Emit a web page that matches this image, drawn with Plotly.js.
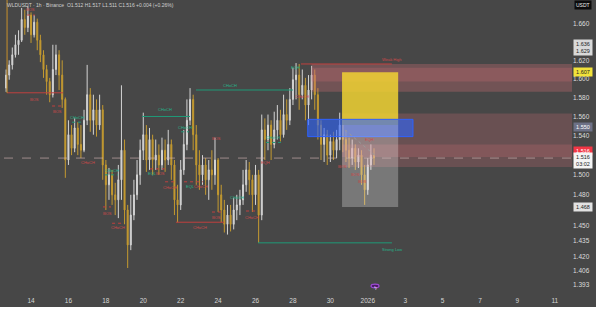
<!DOCTYPE html>
<html><head><meta charset="utf-8">
<script src="https://cdn.plot.ly/plotly-3.0.1.min.js"></script>
<style>html,body{margin:0;padding:0;background:#fff;width:600px;height:315px;overflow:hidden}#chart{width:596px;height:307px}</style>
</head><body><div id="chart"></div>
<script>
// ---- data (4h candles) ----
const startTime = '2025-12-12T16:00:00Z';
const barHours = 4;
const opens = [1.590,1.604,1.615,1.626,1.637,1.642,1.665,1.656,1.670,1.648,
 1.662,1.642,1.626,1.610,1.597,1.583,1.610,1.626,1.604,1.578,
 1.515,1.541,1.527,1.548,1.531,1.525,1.556,1.583,1.556,1.567,
 1.551,1.567,1.510,1.490,1.500,1.480,1.475,1.495,1.525,1.465,
 1.431,1.460,1.480,1.500,1.525,1.541,1.515,1.536,1.515,1.520,
 1.510,1.525,1.515,1.531,1.510,1.475,1.470,1.505,1.531,1.556,
 1.578,1.541,1.510,1.500,1.510,1.495,1.505,1.500,1.515,1.480,
 1.465,1.451,1.460,1.451,1.465,1.470,1.475,1.490,1.505,1.495,
 1.480,1.500,1.460,1.546,1.536,1.551,1.531,1.546,1.556,1.541,
 1.562,1.556,1.578,1.599,1.604,1.583,1.593,1.572,1.588,1.604,
 1.583,1.551,1.531,1.541,1.520,1.534,1.525,1.536,1.551,1.536,
 1.525,1.517,1.527,1.513,1.520,1.500,1.485,1.510,1.520];
const highs = [1.610,1.620,1.634,1.648,1.653,1.678,1.676,1.680,1.673,1.670,
 1.666,1.648,1.631,1.615,1.601,1.637,1.637,1.631,1.620,1.580,
 1.556,1.551,1.558,1.554,1.551,1.567,1.615,1.590,1.583,1.578,
 1.583,1.572,1.515,1.507,1.505,1.492,1.510,1.593,1.536,1.470,
 1.480,1.495,1.515,1.536,1.564,1.551,1.548,1.541,1.536,1.531,
 1.538,1.536,1.546,1.536,1.515,1.490,1.515,1.546,1.578,1.590,
 1.583,1.551,1.525,1.520,1.517,1.515,1.525,1.538,1.517,1.490,
 1.475,1.470,1.470,1.477,1.480,1.485,1.505,1.515,1.513,1.500,
 1.510,1.505,1.562,1.558,1.562,1.556,1.565,1.572,1.567,1.583,
 1.578,1.590,1.612,1.617,1.616,1.610,1.601,1.604,1.614,1.610,
 1.590,1.556,1.548,1.546,1.541,1.544,1.546,1.564,1.558,1.546,
 1.538,1.536,1.531,1.527,1.525,1.510,1.517,1.531,1.527];
const lows = [1.586,1.599,1.610,1.623,1.626,1.640,1.648,1.651,1.639,1.645,
 1.631,1.618,1.601,1.583,1.575,1.580,1.604,1.588,1.569,1.497,
 1.510,1.520,1.523,1.520,1.517,1.523,1.551,1.544,1.541,1.539,
 1.546,1.495,1.465,1.475,1.470,1.460,1.457,1.475,1.451,1.409,
 1.426,1.455,1.475,1.490,1.515,1.503,1.505,1.500,1.505,1.500,
 1.505,1.503,1.510,1.495,1.460,1.453,1.465,1.500,1.525,1.551,
 1.525,1.490,1.485,1.490,1.480,1.475,1.485,1.490,1.463,1.453,
 1.443,1.441,1.444,1.446,1.455,1.460,1.470,1.483,1.480,1.463,
 1.470,1.433,1.455,1.515,1.525,1.515,1.527,1.536,1.534,1.538,
 1.546,1.551,1.572,1.578,1.567,1.578,1.556,1.551,1.578,1.567,
 1.536,1.515,1.513,1.510,1.513,1.515,1.517,1.525,1.523,1.513,
 1.507,1.510,1.505,1.507,1.490,1.470,1.480,1.505,1.510];
const closes = [1.604,1.615,1.626,1.637,1.642,1.665,1.656,1.670,1.648,1.662,
 1.642,1.626,1.610,1.597,1.583,1.610,1.626,1.604,1.578,1.515,
 1.541,1.527,1.548,1.531,1.525,1.556,1.583,1.556,1.567,1.551,
 1.567,1.510,1.490,1.500,1.480,1.475,1.495,1.525,1.465,1.431,
 1.460,1.480,1.500,1.525,1.541,1.515,1.536,1.515,1.520,1.510,
 1.525,1.515,1.531,1.510,1.475,1.470,1.505,1.531,1.556,1.578,
 1.541,1.510,1.500,1.510,1.495,1.505,1.500,1.515,1.480,1.465,
 1.451,1.460,1.451,1.465,1.470,1.475,1.490,1.505,1.495,1.480,
 1.500,1.460,1.546,1.536,1.551,1.531,1.546,1.556,1.541,1.562,
 1.556,1.578,1.599,1.604,1.583,1.593,1.572,1.588,1.604,1.583,
 1.551,1.531,1.541,1.520,1.534,1.525,1.536,1.551,1.536,1.525,
 1.517,1.527,1.513,1.520,1.500,1.485,1.510,1.520,1.517];

const xTickDates = ['2025-12-14','2025-12-16','2025-12-18','2025-12-20','2025-12-22','2025-12-24','2025-12-26','2025-12-28','2025-12-30','2026-01-01','2026-01-03','2026-01-05','2026-01-07','2026-01-09','2026-01-11'];
const xTickLabels = ['14','16','18','20','22','24','26','28','30','2026','3','5','7','9','11'];
const yTickValues = [1.660,1.620,1.600,1.580,1.560,1.540,1.500,1.480,1.450,1.435,1.420,1.406,1.393];

const lastPrice = 1.517;
// zones: [x0, x1, priceLow, priceHigh]
const upperZone = ['2025-12-29 00:00','2026-01-11 22:00',1.586,1.616];
const upperZoneCore = ['2025-12-29 00:00','2026-01-11 22:00',1.597,1.612];
const lowerZone = ['2025-12-30 15:00','2026-01-11 22:00',1.508,1.563];
const lowerZoneCore = ['2025-12-30 15:00','2026-01-11 22:00',1.518,1.531];
const targetBox = ['2025-12-30 15:00','2026-01-02 15:00',1.551,1.607];
const stopBox = ['2025-12-30 15:00','2026-01-02 15:00',1.468,1.551];
const blueBox = ['2025-12-28 19:00','2026-01-03 10:00',1.539,1.557];
// structure lines: [x0, x1, price, kind]
const structLines = [
 ['2025-12-12 17:15','2025-12-15 17:00',1.585,'redSolid'],
 ['2025-12-13 19:00','2025-12-14 05:00',1.670,'redDot'],
 ['2025-12-15 03:00','2025-12-15 17:00',1.571,'redDot'],
 ['2025-12-16 04:30','2025-12-16 17:30',1.554,'greenDot'],
 ['2025-12-17 23:00','2025-12-18 15:40',1.500,'greenDot'],
 ['2025-12-17 20:20','2025-12-18 06:40',1.468,'redDot'],
 ['2025-12-18 08:00','2025-12-18 20:40',1.452,'redDot'],
 ['2025-12-19 22:20','2025-12-22 12:00',1.560,'greenSolid'],
 ['2025-12-20 08:40','2025-12-21 05:15',1.506,'redDot'],
 ['2025-12-21 04:00','2025-12-21 18:00',1.493,'redDot'],
 ['2025-12-22 00:30','2025-12-22 10:40',1.544,'greenDot'],
 ['2025-12-22 04:20','2025-12-23 04:40',1.493,'redDot'],
 ['2025-12-21 18:00','2025-12-24 07:40',1.453,'redSolid'],
 ['2025-12-23 16:10','2025-12-24 05:00',1.463,'redDot'],
 ['2025-12-25 11:50','2025-12-26 00:40',1.464,'redDot'],
 ['2025-12-26 13:30','2025-12-27 08:40',1.533,'greenDot'],
 ['2025-12-22 19:40','2025-12-28 00:00',1.588,'greenSolid'],
 ['2025-12-28 10:20','2026-01-02 07:00',1.616,'redSolid'],
 ['2025-12-26 03:10','2026-01-02 07:00',1.433,'greenSolid']
];
// labels: [text, time, price, colour kind]
const structLabels = [
 ['BOS','2025-12-13 22:45',1.676,'r'],['BOS','2025-12-14 05:00',1.578,'r'],['BOS','2025-12-15 09:20',1.565,'r'],
 ['CHoCH','2025-12-16 11:00',1.559,'g'],['CHoCH','2025-12-17 01:00',1.512,'r'],['CHoCH','2025-12-18 08:00',1.504,'g'],
 ['BOS','2025-12-18 01:30',1.462,'r'],['CHoCH','2025-12-18 15:40',1.448,'r'],['CHoCH','2025-12-21 04:00',1.567,'g'],
 ['EQL','2025-12-20 11:20',1.501,'g'],['BOS','2025-12-20 21:30',1.501,'r'],['CHoCH','2025-12-21 10:20',1.487,'r'],
 ['CHoCH','2025-12-22 05:30',1.549,'g'],['EQL','2025-12-22 12:00',1.488,'g'],['CHoCH','2025-12-23 02:10',1.488,'r'],
 ['BOS','2025-12-23 21:20',1.537,'r'],['BOS','2025-12-23 22:30',1.458,'r'],['CHoCH','2025-12-23 00:45',1.448,'r'],
 ['CHoCH','2025-12-25 00:15',1.477,'g'],['CHoCH','2025-12-25 19:30',1.458,'r'],['CHoCH','2025-12-26 22:20',1.538,'g'],
 ['EQH','2025-12-26 12:10',1.513,'r'],['CHoCH','2025-12-24 15:20',1.593,'g'],['EQH','2025-12-28 02:40',1.612,'g'],
 ['CHoCH','2025-12-28 11:30',1.581,'r'],['BOS','2025-12-30 15:00',1.508,'r'],['BOS','2025-12-31 07:40',1.500,'r'],
 ['BOS','2025-12-31 16:40',1.493,'r'],['EQH','2026-01-01 02:50',1.536,'r'],
 ['Weak High','2026-01-02 07:00',1.621,'r'],['Strong Low','2026-01-02 07:00',1.427,'g']
];
// right-axis price tags: [text, price, bg, fg]
const priceTags = [
 ['1.636<br>1.629',1.6335,'#d9d9d9','#222'],
 ['1.607',1.607,'#f2e23a','#222'],
 ['1.550',1.549,'#6d7186','#fff'],
 ['1.516',1.524,'#f23645','#fff'],
 ['1.516<br>03:02',1.5145,'#f4f4f4','#222'],
 ['1.468',1.468,'#e2e2e2','#222']
];

// ---- build ----
const t0 = Date.parse(startTime);
const times = opens.map((_, i) => new Date(t0 + i*barHours*3600e3).toISOString().slice(0,16).replace('T',' '));

const RED = '#c0403f', GREEN = '#1f9a78';
const shapes = [];
function rect(z, fill, line) {
  shapes.push({type:'rect', xref:'x', yref:'y', x0:z[0], x1:z[1], y0:z[2], y1:z[3],
    fillcolor: fill, line: line || {width:0}, layer:'above'});
}
rect(upperZone, 'rgba(205,110,115,0.32)');
rect(upperZoneCore, 'rgba(205,110,115,0.28)');
rect(lowerZone, 'rgba(205,110,115,0.26)');
rect(lowerZoneCore, 'rgba(205,110,115,0.26)');
rect(targetBox, 'rgba(240,210,50,0.85)');
rect(blueBox, 'rgba(45,100,255,0.6)', {color:'#2e62ff', width:1});
rect(stopBox, 'rgba(255,255,255,0.27)');
structLines.forEach(l => {
  const col = l[3].startsWith('red') ? RED : GREEN;
  shapes.push({type:'line', xref:'x', yref:'y', x0:l[0], x1:l[1], y0:l[2], y1:l[2], layer:'above',
    line:{color:col, width:1, dash: l[3].endsWith('Dot') ? 'dot' : 'solid'}});
});
// vertical marker at chart start
shapes.push({type:'line', xref:'x', yref:'paper', x0:'2025-12-12 17:15', x1:'2025-12-12 17:15', y0:1, y1:0.685, line:{color:'#c8902a', width:1}});
// diagonal dotted trendline
shapes.push({type:'line', xref:'x', yref:'y', x0:'2025-12-30 18:45', x1:'2026-01-01 11:50', y0:1.546, y1:1.518, layer:'above', line:{color:'#9a9a9a', width:1, dash:'dot'}});
// last price line
shapes.push({type:'line', xref:'paper', yref:'y', x0:0, x1:1, y0:lastPrice, y1:lastPrice, layer:'above', line:{color:'rgba(215,185,185,0.6)', width:1, dash:'dash'}});
// event icon
shapes.push({type:'circle', xref:'x', yref:'y', xsizemode:'pixel', ysizemode:'pixel', xanchor:'2026-01-01 09:20', yanchor:1.390,
  x0:-4, x1:4, y0:-4, y1:4, fillcolor:'#4a1a66', line:{color:'#a04ad8', width:1.2}});

const annotations = [];
structLabels.forEach(a => annotations.push({xref:'x', yref:'y', x:a[1], y:Math.log10(a[2]), text:a[0], showarrow:false,
  font:{size:4, color: a[3]==='r' ? '#d0494a' : '#25b58c', family:'Liberation Sans'}}));
priceTags.forEach(p => annotations.push({xref:'paper', yref:'y', x:1, xanchor:'left', xshift:1, y:Math.log10(p[1]), text:p[0],
  showarrow:false, bgcolor:p[2], borderpad:1, width:16, align:'center', font:{size:5.5, color:p[3], family:'Liberation Sans'}}));
annotations.push({xref:'paper', yref:'paper', x:1, xanchor:'left', xshift:2, y:1, yanchor:'top', yshift:0, text:'USDT', showarrow:false,
  bgcolor:'#0c0c0c', borderpad:1, font:{size:5, color:'#eee', family:'Liberation Sans'}});
annotations.push({xref:'paper', yref:'paper', x:0, xanchor:'left', xshift:1, y:1, yanchor:'top', yshift:0, showarrow:false,
  text:'WLDUSDT · 1h · Binance  O1.512 H1.517 L1.511 C1.516 +0.004 (+0.26%)', font:{size:5, color:'#cfcfcf', family:'Liberation Sans'}});
annotations.push({xref:'x', yref:'y', x:'2026-01-01 09:20', y:Math.log10(1.390), text:'ϟ', showarrow:false, font:{size:5, color:'#e8d8ff'}});

const trace = {
  type:'candlestick', x:times, open:opens, high:highs, low:lows, close:closes,
  increasing:{line:{color:'#d4d4d4', width:1}, fillcolor:'#d4d4d4'},
  decreasing:{line:{color:'#c49a30', width:1}, fillcolor:'#c49a30'},
  whiskerwidth:0, hoverinfo:'skip'
};

const layout = {
  width:596, height:307, margin:{l:4, r:24, t:0, b:12},
  paper_bgcolor:'#474747', plot_bgcolor:'#474747', showlegend:false, boxgap:0.55,
  xaxis:{type:'date', range:['2025-12-12 13:20','2026-01-11 22:00'], rangeslider:{visible:false},
    tickvals:xTickDates, ticktext:xTickLabels, showgrid:false, zeroline:false, showline:false, ticks:'',
    tickfont:{size:6.5, color:'#d6d6d6', family:'Liberation Sans'}},
  yaxis:{type:'log', side:'right', range:[0.14103, 0.22711], tickvals:yTickValues,
    ticktext:yTickValues.map(v => v.toFixed(3)), showgrid:false, zeroline:false, showline:false, ticks:'',
    tickfont:{size:6.5, color:'#dcdcdc', family:'Liberation Sans'}},
  shapes, annotations
};
Plotly.newPlot('chart', [trace], layout, {staticPlot:true, displayModeBar:false});
</script></body></html>
